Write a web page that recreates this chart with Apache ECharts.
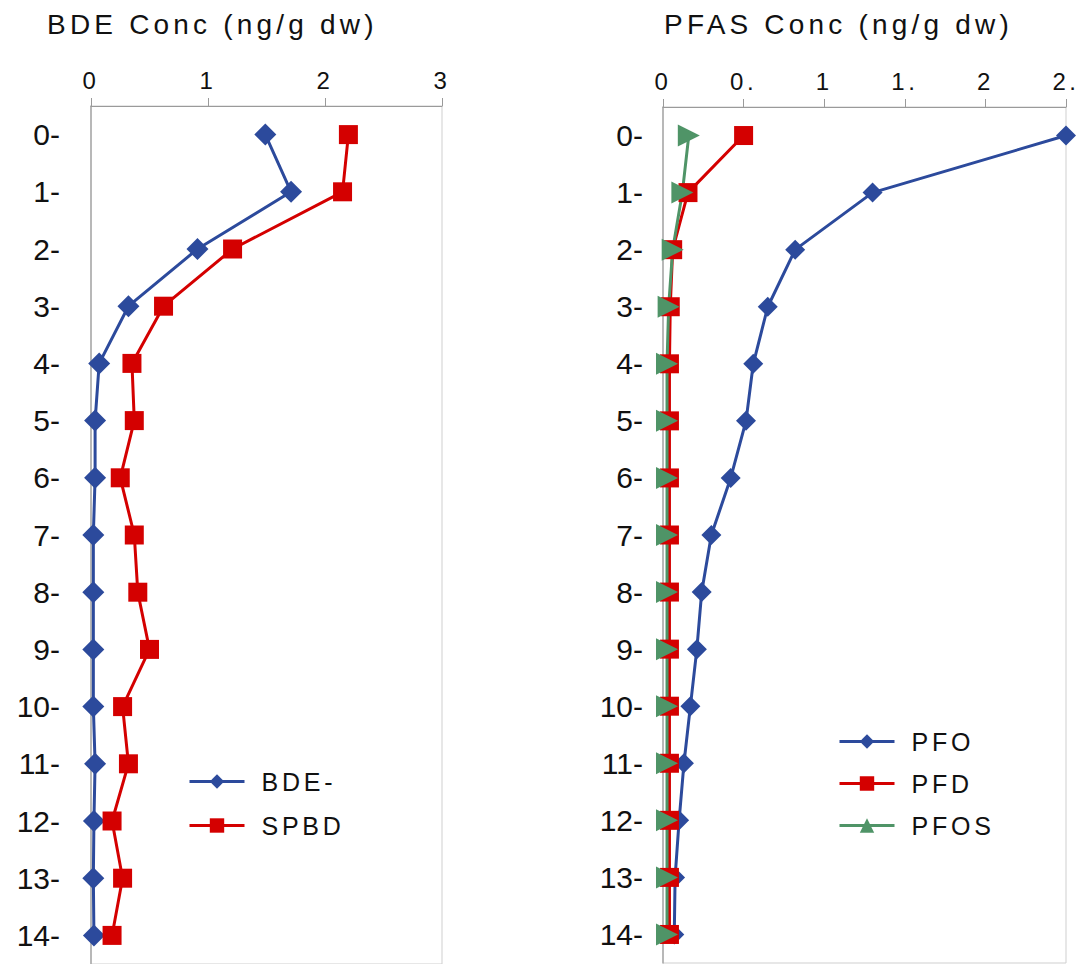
<!DOCTYPE html>
<html>
<head>
<meta charset="utf-8">
<script src="https://cdn.jsdelivr.net/npm/echarts@6/dist/echarts.min.js"></script>
<style>
  html, body { margin: 0; padding: 0; background: #ffffff; }
  #chart { width: 1089px; height: 964px; }
  #chart text { letter-spacing: 0.15em; }
  #chart text[style*="NoSpacing"] { letter-spacing: 0; }
</style>
</head>
<body>
<div id="chart"></div>
<script>
// ---- data ----
const depths = ['0-','1-','2-','3-','4-','5-','6-','7-','8-','9-','10-','11-','12-','13-','14-'];
const leftTicks = ['0','1','2','3'];
const rightTicks = ['0','0.','1','1.','2','2.'];

const bde  = [1.49, 1.71, 0.91, 0.32, 0.07, 0.035, 0.035, 0.02, 0.02, 0.02, 0.02, 0.035, 0.025, 0.02, 0.025];
const spbd = [2.20, 2.15, 1.21, 0.62, 0.35, 0.37, 0.25, 0.37, 0.40, 0.50, 0.27, 0.32, 0.18, 0.27, 0.18];

const pfo  = [2.50, 1.30, 0.82, 0.65, 0.56, 0.515, 0.42, 0.30, 0.24, 0.21, 0.17, 0.13, 0.10, 0.075, 0.07];
const pfd  = [0.50, 0.155, 0.06, 0.045, 0.04, 0.04, 0.04, 0.04, 0.04, 0.04, 0.04, 0.04, 0.04, 0.04, 0.04];
const pfos = [0.16, 0.12, 0.06, 0.035, 0.025, 0.025, 0.025, 0.025, 0.025, 0.025, 0.025, 0.025, 0.025, 0.025, 0.025];

const BLUE = '#2c4a9c', RED = '#d40000', GREEN = '#4f9467';
const FONT = 'Liberation Sans';
const FONT_TALL = 'Liberation Sans, NoSpacing';

const chart = echarts.init(document.getElementById('chart'), null, { renderer: 'svg' });

function xAx(grid, max, interval, ticks) {
  return {
    gridIndex: grid, type: 'value', position: 'top', min: 0, max: max, interval: interval,
    axisLine: { show: true, lineStyle: { color: '#9a9a9a', width: 1 } },
    axisTick: { show: true, length: 8, lineStyle: { color: '#9a9a9a' } },
    splitLine: { show: false },
    axisLabel: { fontSize: 24, color: '#111', margin: 14, fontFamily: FONT,
                 formatter: (v, i) => ticks[i] }
  };
}
function yAx(grid, margin) {
  return {
    gridIndex: grid, type: 'category', inverse: true, data: depths,
    axisLine: { show: true, lineStyle: { color: '#a8a8a8', width: 1.5 } },
    axisTick: { show: false },
    splitLine: { show: false },
    axisLabel: { fontSize: 30, color: '#111', margin: margin, fontFamily: FONT_TALL }
  };
}
function ser(name, data, xi, color, symbol, size, rot) {
  return {
    name: name, type: 'line', xAxisIndex: xi, yAxisIndex: xi, data: data,
    symbol: symbol, symbolSize: size, symbolRotate: rot || 0, showSymbol: true,
    color: color, itemStyle: { color: color },
    lineStyle: { color: color, width: 3 }, animation: false
  };
}

chart.setOption({
  animation: false,
  backgroundColor: '#ffffff',
  textStyle: { fontFamily: FONT },
  title: [
    { text: 'BDE Conc (ng/g dw)', left: 42, top: 5,
      textStyle: { fontSize: 28, fontWeight: 'normal', color: '#111', fontFamily: FONT } },
    { text: 'PFAS Conc (ng/g dw)', left: 659, top: 5,
      textStyle: { fontSize: 28, fontWeight: 'normal', color: '#111', fontFamily: FONT } }
  ],
  grid: [
    { left: 91, top: 106, width: 351, height: 864, show: true, borderColor: '#cfcfcf', borderWidth: 1, backgroundColor: 'transparent' },
    { left: 663, top: 107, width: 403, height: 856, show: true, borderColor: '#cfcfcf', borderWidth: 1, backgroundColor: 'transparent' }
  ],
  xAxis: [ xAx(0, 3, 1, leftTicks), xAx(1, 2.5, 0.5, rightTicks) ],
  yAxis: [ yAx(0, 31), yAx(1, 20) ],
  legend: [
    { data: ['BDE-', 'SPBD'], orient: 'vertical', left: 188, top: 769, padding: 0,
      itemWidth: 55, itemHeight: 18, itemGap: 19, symbolRotate: 0,
      lineStyle: { width: 3 },
      textStyle: { fontSize: 25, color: '#111', fontFamily: FONT, padding: [0, 0, 0, 12] } },
    { data: ['PFO', 'PFD', 'PFOS'], orient: 'vertical', left: 838, top: 729, padding: 0,
      itemWidth: 55, itemHeight: 18, itemGap: 17, symbolRotate: 0,
      lineStyle: { width: 3 },
      textStyle: { fontSize: 25, color: '#111', fontFamily: FONT, padding: [0, 0, 0, 12] } }
  ],
  series: [
    ser('BDE-', bde, 0, BLUE, 'diamond', 22),
    ser('SPBD', spbd, 0, RED, 'rect', 19),
    ser('PFO', pfo, 1, BLUE, 'diamond', 20),
    ser('PFD', pfd, 1, RED, 'rect', 19),
    ser('PFOS', pfos, 1, GREEN, 'triangle', 22, -90)
  ]
});
</script>
</body>
</html>
